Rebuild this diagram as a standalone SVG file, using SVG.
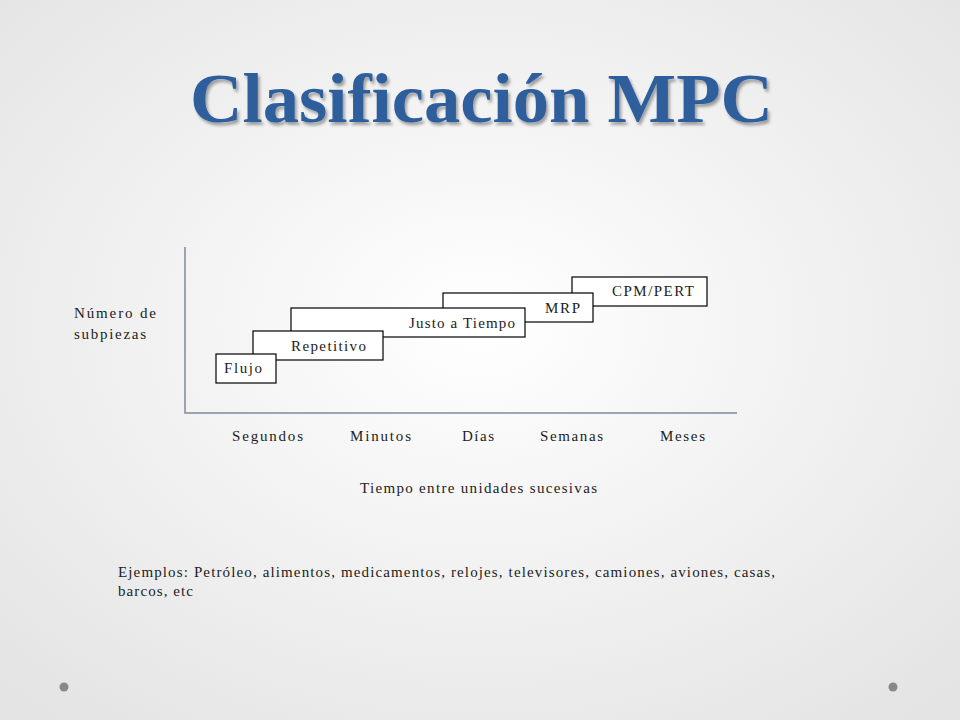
<svg xmlns="http://www.w3.org/2000/svg" width="960" height="720" viewBox="0 0 960 720">
<defs>
<radialGradient id="bg" cx="50%" cy="45%" r="70%"><stop offset="0" stop-color="#ffffff"/><stop offset="1" stop-color="#e4e4e4"/></radialGradient>
<filter id="sh"><feDropShadow dx="2" dy="3" stdDeviation="1.5" flood-color="#000" flood-opacity="0.35"/></filter>
</defs>
<style>
.t{font-family:"Liberation Serif",serif;font-size:15px;fill:#222}
.b{fill:#fff;stroke:#000;stroke-width:1.2}
.ax{stroke:#7f8ba0;stroke-width:1.5;fill:none}
</style>
<rect width="960" height="720" fill="url(#bg)"/>
<text x="190" y="122" textLength="583" lengthAdjust="spacingAndGlyphs" font-family="Liberation Serif,serif" font-size="70" font-weight="bold" fill="#2f5e9c" filter="url(#sh)">Clasificación MPC</text>
<g id="axes"><path class="ax" d="M185,247 V413 H737"/></g>
<g id="cpm"><rect class="b" x="572" y="277" width="135" height="29"/><text class="t" x="612" y="296" textLength="82">CPM/PERT</text></g>
<g id="mrp"><rect class="b" x="443" y="293" width="150" height="29"/><text class="t" x="545" y="313" textLength="35">MRP</text></g>
<g id="jit"><rect class="b" x="291" y="308" width="234" height="29"/><text class="t" x="409" y="328" textLength="106">Justo a Tiempo</text></g>
<g id="rep"><rect class="b" x="253" y="331" width="130" height="29"/><text class="t" x="291" y="351" textLength="75">Repetitivo</text></g>
<g id="flujo"><rect class="b" x="216" y="354" width="60" height="29"/><text class="t" x="224" y="373" textLength="38">Flujo</text></g>
<g id="connectors"/>
<text class="t" x="74" y="318" textLength="82">Número de</text>
<text class="t" x="74" y="339" textLength="72">subpiezas</text>
<text class="t" x="232" y="441" textLength="71">Segundos</text>
<text class="t" x="350" y="441" textLength="61">Minutos</text>
<text class="t" x="462" y="441" textLength="32">Días</text>
<text class="t" x="540" y="441" textLength="63">Semanas</text>
<text class="t" x="660" y="441" textLength="45">Meses</text>
<text class="t" x="360" y="493" textLength="237">Tiempo entre unidades sucesivas</text>
<text class="t" x="118" y="577" textLength="657">Ejemplos: Petróleo, alimentos, medicamentos, relojes, televisores, camiones, aviones, casas,</text>
<text class="t" x="118" y="596" textLength="75">barcos, etc</text>
<circle cx="64" cy="687" r="4.5" fill="#888"/>
<circle cx="893" cy="687" r="4.5" fill="#888"/>
</svg>
